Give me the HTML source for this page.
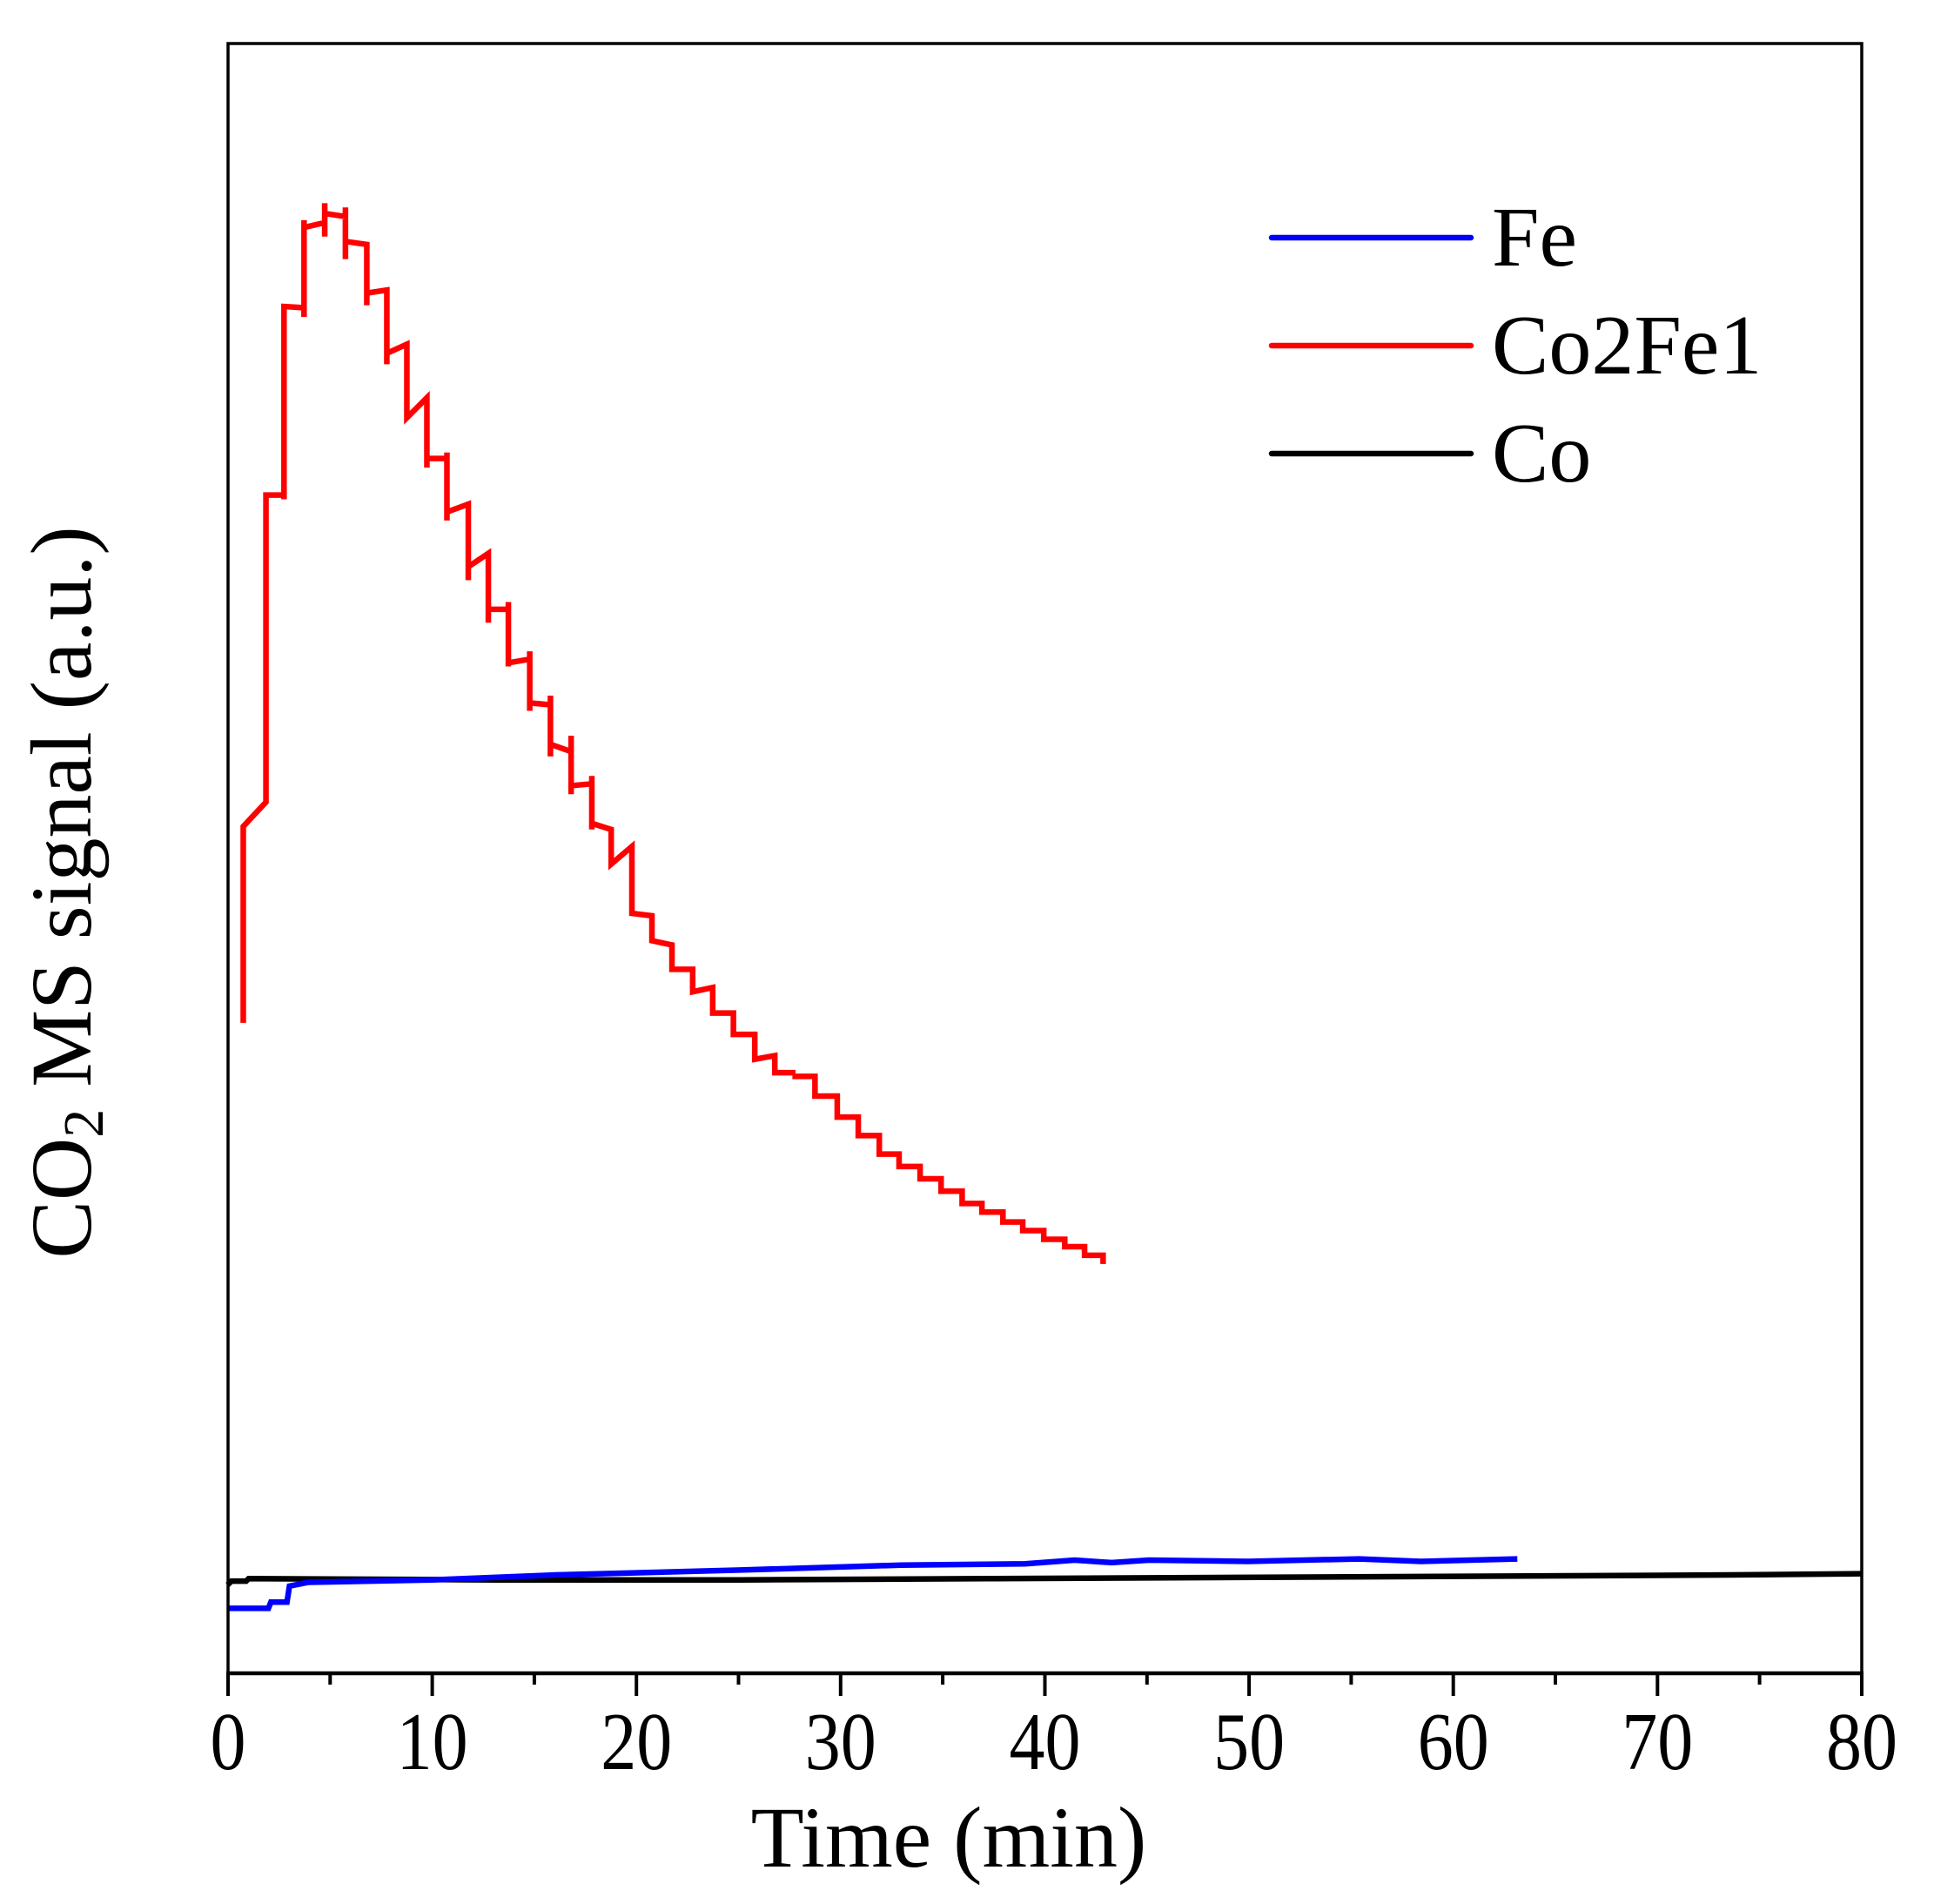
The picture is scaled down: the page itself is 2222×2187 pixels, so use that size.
<!DOCTYPE html>
<html><head><style>html,body{margin:0;padding:0;background:#fff}svg{display:block}</style></head>
<body>
<svg width="2222" height="2187" viewBox="0 0 2222 2187" xmlns="http://www.w3.org/2000/svg" font-family="'Liberation Serif', serif">
<rect width="2222" height="2187" fill="#fff"/>
<g transform="translate(262,50) scale(0.9974,0.9952) translate(-264,-50)">
<g transform="translate(200,150) scale(0.7692,0.7018)">
<polyline fill="none" stroke="#ff0000" stroke-width="6.5" vector-effect="non-scaling-stroke" points="106,1468 106,1145 140,1105 140,600 167,600 167,607 167,290 197,292 197,307 197,148 197,160 228,152 228,175 228,120 228,137 259,142 259,127 259,212 259,183 291,188 291,288 291,268 321,263 321,385 321,367 351,352 351,473 381,440 381,555 381,540 411,540 411,530 411,642 411,628 443,615 443,740 443,718 473,696 473,810 473,788 503,788 503,776 503,882 503,876 535,870 535,857 535,955 535,942 566,945 566,930 566,1030 566,1010 597,1022 597,996 597,1092 597,1078 628,1075 628,1062 628,1150 628,1140 657,1150 657,1207 688,1178 688,1288 718,1292 718,1333 748,1340 748,1380 779,1380 779,1417 809,1410 809,1452 840,1452 840,1487 872,1487 872,1528 902,1522 902,1550 933,1550"/>
</g>
<g transform="scale(1.4244)">
<polyline fill="none" stroke="#ff0000" stroke-width="6.5" vector-effect="non-scaling-stroke" points="644,870 644,872 660,872 660,888 678,888 678,905 695,905 695,920 712,920 712,935 728,935 728,945 745,945 745,955 762,955 762,965 779,965 779,975 795,975 795,982 812,982 812,990 828,990 828,997 845,997 845,1004 862,1004 862,1010 878,1010 878,1017 893,1017 893,1024"/>
<polyline fill="none" stroke="#000" stroke-width="6.5" vector-effect="non-scaling-stroke" points="185,1284 188,1281 200,1281 202,1279 400,1280 600,1280 800,1279 1000,1278 1200,1277 1400,1276 1507,1275"/>
<polyline fill="none" stroke="#0000ff" stroke-width="6.5" vector-effect="non-scaling-stroke" points="185,1303 218,1303 220,1298 233,1298 235,1285 250,1282 350,1280 450,1276 600,1272 730,1268 830,1267 870,1264 900,1266 930,1264 1010,1265 1100,1263 1150,1265 1228,1263"/>
</g>
</g>
<rect x="262" y="50" width="1877" height="1872" fill="none" stroke="#000" stroke-width="3.5"/>
<line x1="260" y1="1922" x2="2141" y2="1922" stroke="#000" stroke-width="4.5"/>
<g stroke="#000" stroke-width="4">
<line x1="262" y1="1922" x2="262" y2="1948"/><line x1="379.3" y1="1922" x2="379.3" y2="1935"/>
<line x1="496.6" y1="1922" x2="496.6" y2="1948"/><line x1="613.9" y1="1922" x2="613.9" y2="1935"/>
<line x1="731.2" y1="1922" x2="731.2" y2="1948"/><line x1="848.5" y1="1922" x2="848.5" y2="1935"/>
<line x1="965.8" y1="1922" x2="965.8" y2="1948"/><line x1="1083.1" y1="1922" x2="1083.1" y2="1935"/>
<line x1="1200.5" y1="1922" x2="1200.5" y2="1948"/><line x1="1317.8" y1="1922" x2="1317.8" y2="1935"/>
<line x1="1435.1" y1="1922" x2="1435.1" y2="1948"/><line x1="1552.4" y1="1922" x2="1552.4" y2="1935"/>
<line x1="1669.7" y1="1922" x2="1669.7" y2="1948"/><line x1="1787" y1="1922" x2="1787" y2="1935"/>
<line x1="1904.3" y1="1922" x2="1904.3" y2="1948"/><line x1="2021.6" y1="1922" x2="2021.6" y2="1935"/>
<line x1="2139" y1="1922" x2="2139" y2="1948"/>
</g>
<g font-size="82" text-anchor="middle" fill="#000" transform="translate(0,2032) scale(1,1.15)">
<text x="262" y="0">0</text><text x="496.6" y="0">10</text><text x="731.2" y="0">20</text>
<text x="965.8" y="0">30</text><text x="1200.5" y="0">40</text><text x="1435.1" y="0">50</text>
<text x="1669.7" y="0">60</text><text x="1904.3" y="0">70</text><text x="2139" y="0">80</text>
</g>
<text x="1090" y="2144" font-size="100" text-anchor="middle">Time (min)</text>
<text transform="translate(104,1025) rotate(-90)" font-size="100" text-anchor="middle">CO<tspan font-size="66" dy="14">2</tspan><tspan dy="-14"> MS signal (a.u.)</tspan></text>
<g stroke-width="6.5" stroke-linecap="round">
<line x1="1461" y1="273" x2="1690" y2="273" stroke="#0000ff"/>
<line x1="1461" y1="397" x2="1690" y2="397" stroke="#ff0000"/>
<line x1="1461" y1="521" x2="1690" y2="521" stroke="#000"/>
</g>
<g font-size="98" fill="#000">
<text x="1714" y="305">Fe</text><text x="1714" y="429">Co2Fe1</text><text x="1714" y="553">Co</text>
</g>
</svg>
</body></html>
